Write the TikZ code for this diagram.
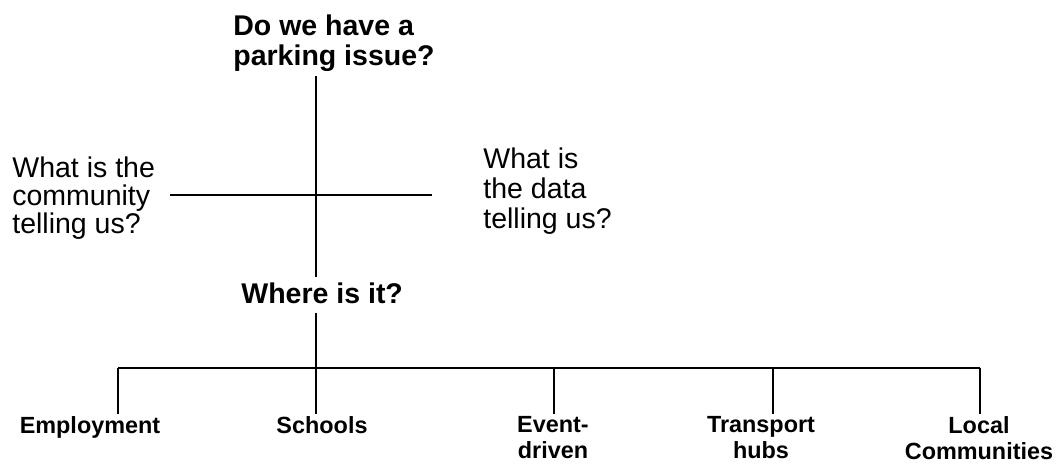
\documentclass[tikz,border=0pt]{standalone}
\usepackage{fontspec}
\setmainfont{Liberation Sans}
\usepackage{tikz}

\begin{document}
\begin{tikzpicture}[
    x=0.5pt, y=-0.5pt,
    question/.style={font=\bfseries\fontsize{14.25pt}{15pt}\selectfont, inner sep=0pt, align=left, anchor=north west},
    answer/.style={font=\fontsize{14.25pt}{14pt}\selectfont, inner sep=0pt, align=left, anchor=north west},
    place/.style={font=\bfseries\fontsize{11.7pt}{13pt}\selectfont, inner sep=0pt, align=center, anchor=north},
    link/.style={line width=1pt}
]
\useasboundingbox (0,0) rectangle (1057,464);

% Main questions
\node[question] (issue) at (233,14) {Do we have a\\parking issue?};
\node[question] (where) at (241,282) {Where is it?};

% Two sides of the cross
\node[answer] (community) at (12,156) {What is the\\community\\telling us?};
\node[answer, font=\fontsize{14.25pt}{15pt}\selectfont] (data) at (483,147) {What is\\the data\\telling us?};

% The cross
\coordinate (hub) at (316,195);
\coordinate (crossW) at (170,195);
\coordinate (crossE) at (432,195);
\draw[link, shorten <=2.5pt, shorten >=2.5pt] (issue.south -| hub) -- (where.north -| hub);
\draw[link] (crossW) -- (crossE);

% Places
\node[place] (employment) at (90,416) {Employment};
\node[place] (schools) at (322,416) {Schools};
\node[place] (event) at (553,416) {Event-\\driven};
\node[place] (transport) at (761,416) {Transport\\hubs};
\node[place] (local) at (979,416) {Local\\Communities};

% Bar with drops
\coordinate (barW) at (118,368);
\coordinate (barE) at (980,368);
\draw[link, shorten <=4.5pt] (where.south -| hub) -- (hub |- barW);
\draw[link] (barW) -- (barE);
\foreach \x/\n in {118/employment, 316/schools, 554/event, 773/transport, 980/local}
    \draw[link, shorten >=1pt] (\x,368) -- (\x,368 |- \n.north);

\end{tikzpicture}
\end{document}
